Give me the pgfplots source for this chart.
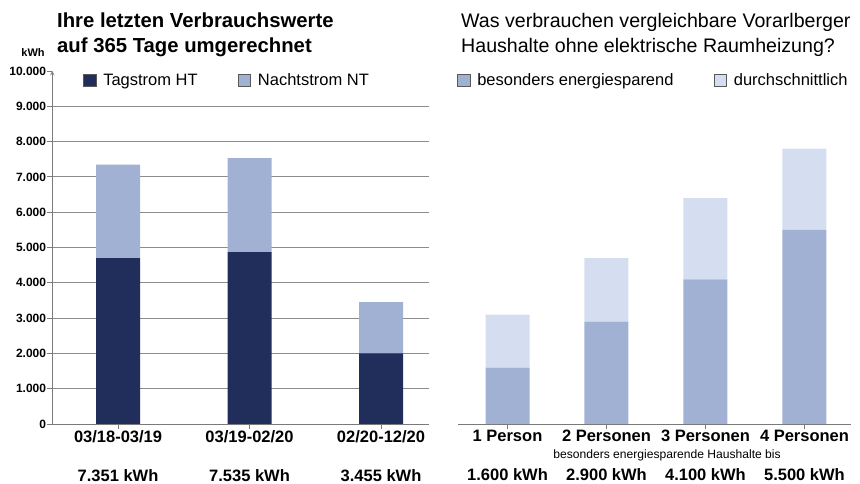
\documentclass[border=0pt]{standalone}
\usepackage{pgfplots}
\pgfplotsset{compat=1.18}
\usepackage{fontspec}
\setmainfont{Liberation Sans}
\definecolor{navy}{HTML}{212D5A}
\definecolor{ntc}{HTML}{A0B1D3}
\definecolor{avgc}{HTML}{D4DEF0}
\definecolor{gridc}{HTML}{8C8C8C}
\definecolor{axisc}{HTML}{7A7A7A}
\pgfplotsset{
  common/.style={
    scale only axis, height=353pt,
    ymin=0, ymax=10000,
    ybar stacked, bar width=44pt,
    clip=false,
    axis x line=bottom,
    axis line style={draw=axisc, line width=0.9pt, -},
    ytick={0,1000,...,9000},
    ymajorgrids,
    major grid style={draw=gridc, line width=0.9pt},
    xtick align=outside, major tick length=5pt,
    tick style={draw=axisc, line width=0.8pt},
    xticklabel style={align=center, font=\bfseries\fontsize{16.5}{39}\selectfont, inner sep=1pt},
    scaled y ticks=false,
    legend style={draw=none, fill=none, inner sep=0pt, legend columns=2,
      font=\fontsize{16.5}{16.5}\selectfont,
      /tikz/every even column/.append style={column sep=38pt}},
    legend image code/.code={\draw[#1, draw=gray!70!black, line width=0.5pt] (0pt,-6.3pt) rectangle (12.7pt,6.3pt); \path (18pt,0pt);},
  }
}
\begin{document}
\begin{tikzpicture}
\path[use as bounding box] (0pt,0pt) rectangle (860pt,484pt);
% Titles
\node[anchor=base west, inner sep=0pt, font=\bfseries\fontsize{20.3}{24}\selectfont] at (57pt,456pt) {Ihre letzten Verbrauchswerte};
\node[anchor=base west, inner sep=0pt, font=\bfseries\fontsize{20.3}{24}\selectfont] at (57pt,431pt) {auf 365 Tage umgerechnet};
\node[anchor=base west, inner sep=0pt, font=\fontsize{19.6}{24}\selectfont] at (461pt,456pt) {Was verbrauchen vergleichbare Vorarlberger};
\node[anchor=base west, inner sep=0pt, font=\fontsize{19.6}{24}\selectfont] at (461pt,431pt) {Haushalte ohne elektrische Raumheizung?};
\node[inner sep=0pt, font=\bfseries\fontsize{11}{12}\selectfont] at (33pt,431pt) {kWh};

\begin{axis}[common,
  at={(52.3pt,60pt)}, anchor=south west, width=376.7pt,
  xmin=-0.5, xmax=2.365,
  axis y line=left,
  ytick align=outside,
  extra y ticks={10000}, extra y tick style={grid=none},
  yticklabel style={font=\bfseries\fontsize{12}{12}\selectfont, inner sep=1pt,
    /pgf/number format/.cd, 1000 sep={.}, assume math mode=true},
  xtick={0,1,2},
  xticklabels={{03/18-03/19\\7.351 kWh},{03/19-02/20\\7.535 kWh},{02/20-12/20\\3.455 kWh}},
  legend style={at={(0.081,0.974)}, anchor=west},
]
\addplot[fill=navy, draw=none] coordinates {(0,4700) (1,4870) (2,2000)};
\addplot[fill=ntc, draw=none] coordinates {(0,2651) (1,2665) (2,1455)};
\legend{Tagstrom HT, Nachtstrom NT}
\end{axis}

\begin{axis}[common,
  at={(458pt,60pt)}, anchor=south west, width=393pt,
  xmin=-0.5, xmax=3.47,
  axis y line=none,
  xtick={0,1,2,3},
  xticklabels={{1 Person\\1.600 kWh},{2 Personen\\2.900 kWh},{3 Personen\\4.100 kWh},{4 Personen\\5.500 kWh}},
  legend style={at={(-0.003,0.974)}, anchor=west},
]
\addplot[fill=ntc, draw=none] coordinates {(0,1600) (1,2900) (2,4100) (3,5500)};
\addplot[fill=avgc, draw=none] coordinates {(0,1500) (1,1800) (2,2300) (3,2300)};
\legend{besonders energiesparend, durchschnittlich}
\node[inner sep=0pt, font=\fontsize{12.1}{12}\selectfont] at (rel axis cs:0.532,0) [yshift=-31pt] {besonders energiesparende Haushalte bis};
\end{axis}
\end{tikzpicture}
\end{document}
